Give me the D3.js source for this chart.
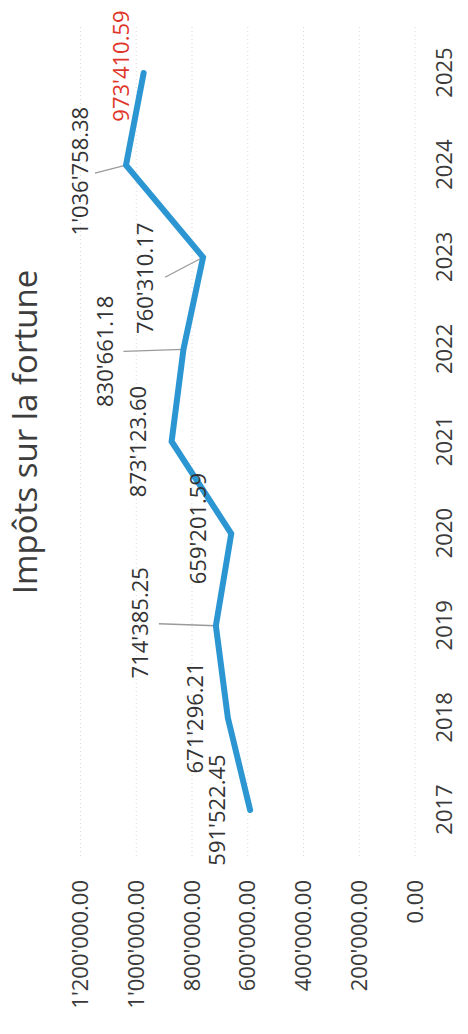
<!DOCTYPE html>
<html>
<head>
<meta charset="utf-8">
<script src="https://cdn.jsdelivr.net/npm/d3@7"></script>
<style>
  html, body { margin: 0; padding: 0; background: #fff; }
  svg { display: block; }
  text { font-family: "Open Sans", sans-serif; }
</style>
</head>
<body>
<svg id="chart" width="468" height="1034"></svg>
<script>
// data
const years = ["2017", "2018", "2019", "2020", "2021", "2022", "2023", "2024", "2025"];
const impots = [591522.45, 671296.21, 714385.25, 659201.59, 873123.60, 830661.18, 760310.17, 1036758.38, 973410.59];
const valueTicks = [0, 200000, 400000, 600000, 800000, 1000000, 1200000];
const title = "Impôts sur la fortune";

// label placement: distance above the point, shift along the years, leader line end
const labelOff = [25, 25, 68, 25, 26, 70, 50, 38, 15];
const labelShift = [0, 0, 3, 5, 0, -2, -21, -6, 7];
const leader = [null, null, [57, 2], null, null, [60, -2], [38, -20], [31, -8], null];

// the chart is drawn landscape, then turned a quarter to the left
const W = 1034, H = 468;

const svg = d3.select("#chart");
const g = svg.append("g")
  .attr("transform", `translate(0,${W}) rotate(-90)`);

const fmt = d3.formatLocale({
  decimal: ".",
  thousands: "'",
  grouping: [3],
  currency: ["", ""]
}).format(",.2f");

const x = d3.scalePoint()
  .domain(years)
  .range([224, 961]);

const y = d3.scaleLinear()
  .domain([0, 1200000])
  .range([415, 80.5]);

// grid
g.append("g")
  .selectAll("line")
  .data(valueTicks)
  .join("line")
    .attr("x1", 178)
    .attr("x2", 1007)
    .attr("y1", d => y(d))
    .attr("y2", d => y(d))
    .attr("stroke", "#d9d9d9")
    .attr("stroke-width", 1)
    .attr("stroke-dasharray", "1 3");

// value axis
const yAxis = d3.axisLeft(y)
  .tickValues(valueTicks)
  .tickFormat(fmt)
  .tickSize(0)
  .tickPadding(0);

g.append("g")
  .attr("transform", "translate(154,0)")
  .call(yAxis)
  .call(a => a.select(".domain").remove())
  .call(a => a.selectAll("text")
    .attr("fill", "#3a3a3a")
    .style("font-size", "22px")
    .style("font-family", "'Open Sans', sans-serif"));

// year axis
const xAxis = d3.axisBottom(x).tickSize(0).tickPadding(0);

g.append("g")
  .attr("transform", "translate(0,436)")
  .call(xAxis)
  .call(a => a.select(".domain").remove())
  .call(a => a.selectAll("text")
    .attr("dy", "0.71em")
    .attr("fill", "#3a3a3a")
    .style("font-size", "22px")
    .style("font-family", "'Open Sans', sans-serif"));

// title
g.append("text")
  .attr("x", 602)
  .attr("y", 37)
  .attr("text-anchor", "middle")
  .attr("fill", "#3d3d3d")
  .style("font-size", "33px")
  .text(title);

const pts = years.map((yr, i) => ({ yr, v: impots[i], i }));

// leader lines
g.append("g")
  .selectAll("line")
  .data(pts.filter(d => leader[d.i]))
  .join("line")
    .attr("x1", d => x(d.yr))
    .attr("y1", d => y(d.v))
    .attr("x2", d => x(d.yr) + leader[d.i][1])
    .attr("y2", d => y(d.v) - leader[d.i][0])
    .attr("stroke", "#9a9a9a")
    .attr("stroke-width", 1.3);

// the line
const path = d3.line()
  .x(d => x(d.yr))
  .y(d => y(d.v));

g.append("path")
  .datum(pts)
  .attr("d", path)
  .attr("fill", "none")
  .attr("stroke", "#2c96d2")
  .attr("stroke-width", 6)
  .attr("stroke-linecap", "round");

// data labels
g.append("g")
  .selectAll("text")
  .data(pts)
  .join("text")
    .attr("x", d => x(d.yr) + labelShift[d.i])
    .attr("y", d => y(d.v) - labelOff[d.i])
    .attr("text-anchor", "middle")
    .attr("fill", d => d.i === pts.length - 1 ? "#e0362a" : "#333")
    .style("font-size", "22px")
    .text(d => fmt(d.v));
</script>
</body>
</html>
